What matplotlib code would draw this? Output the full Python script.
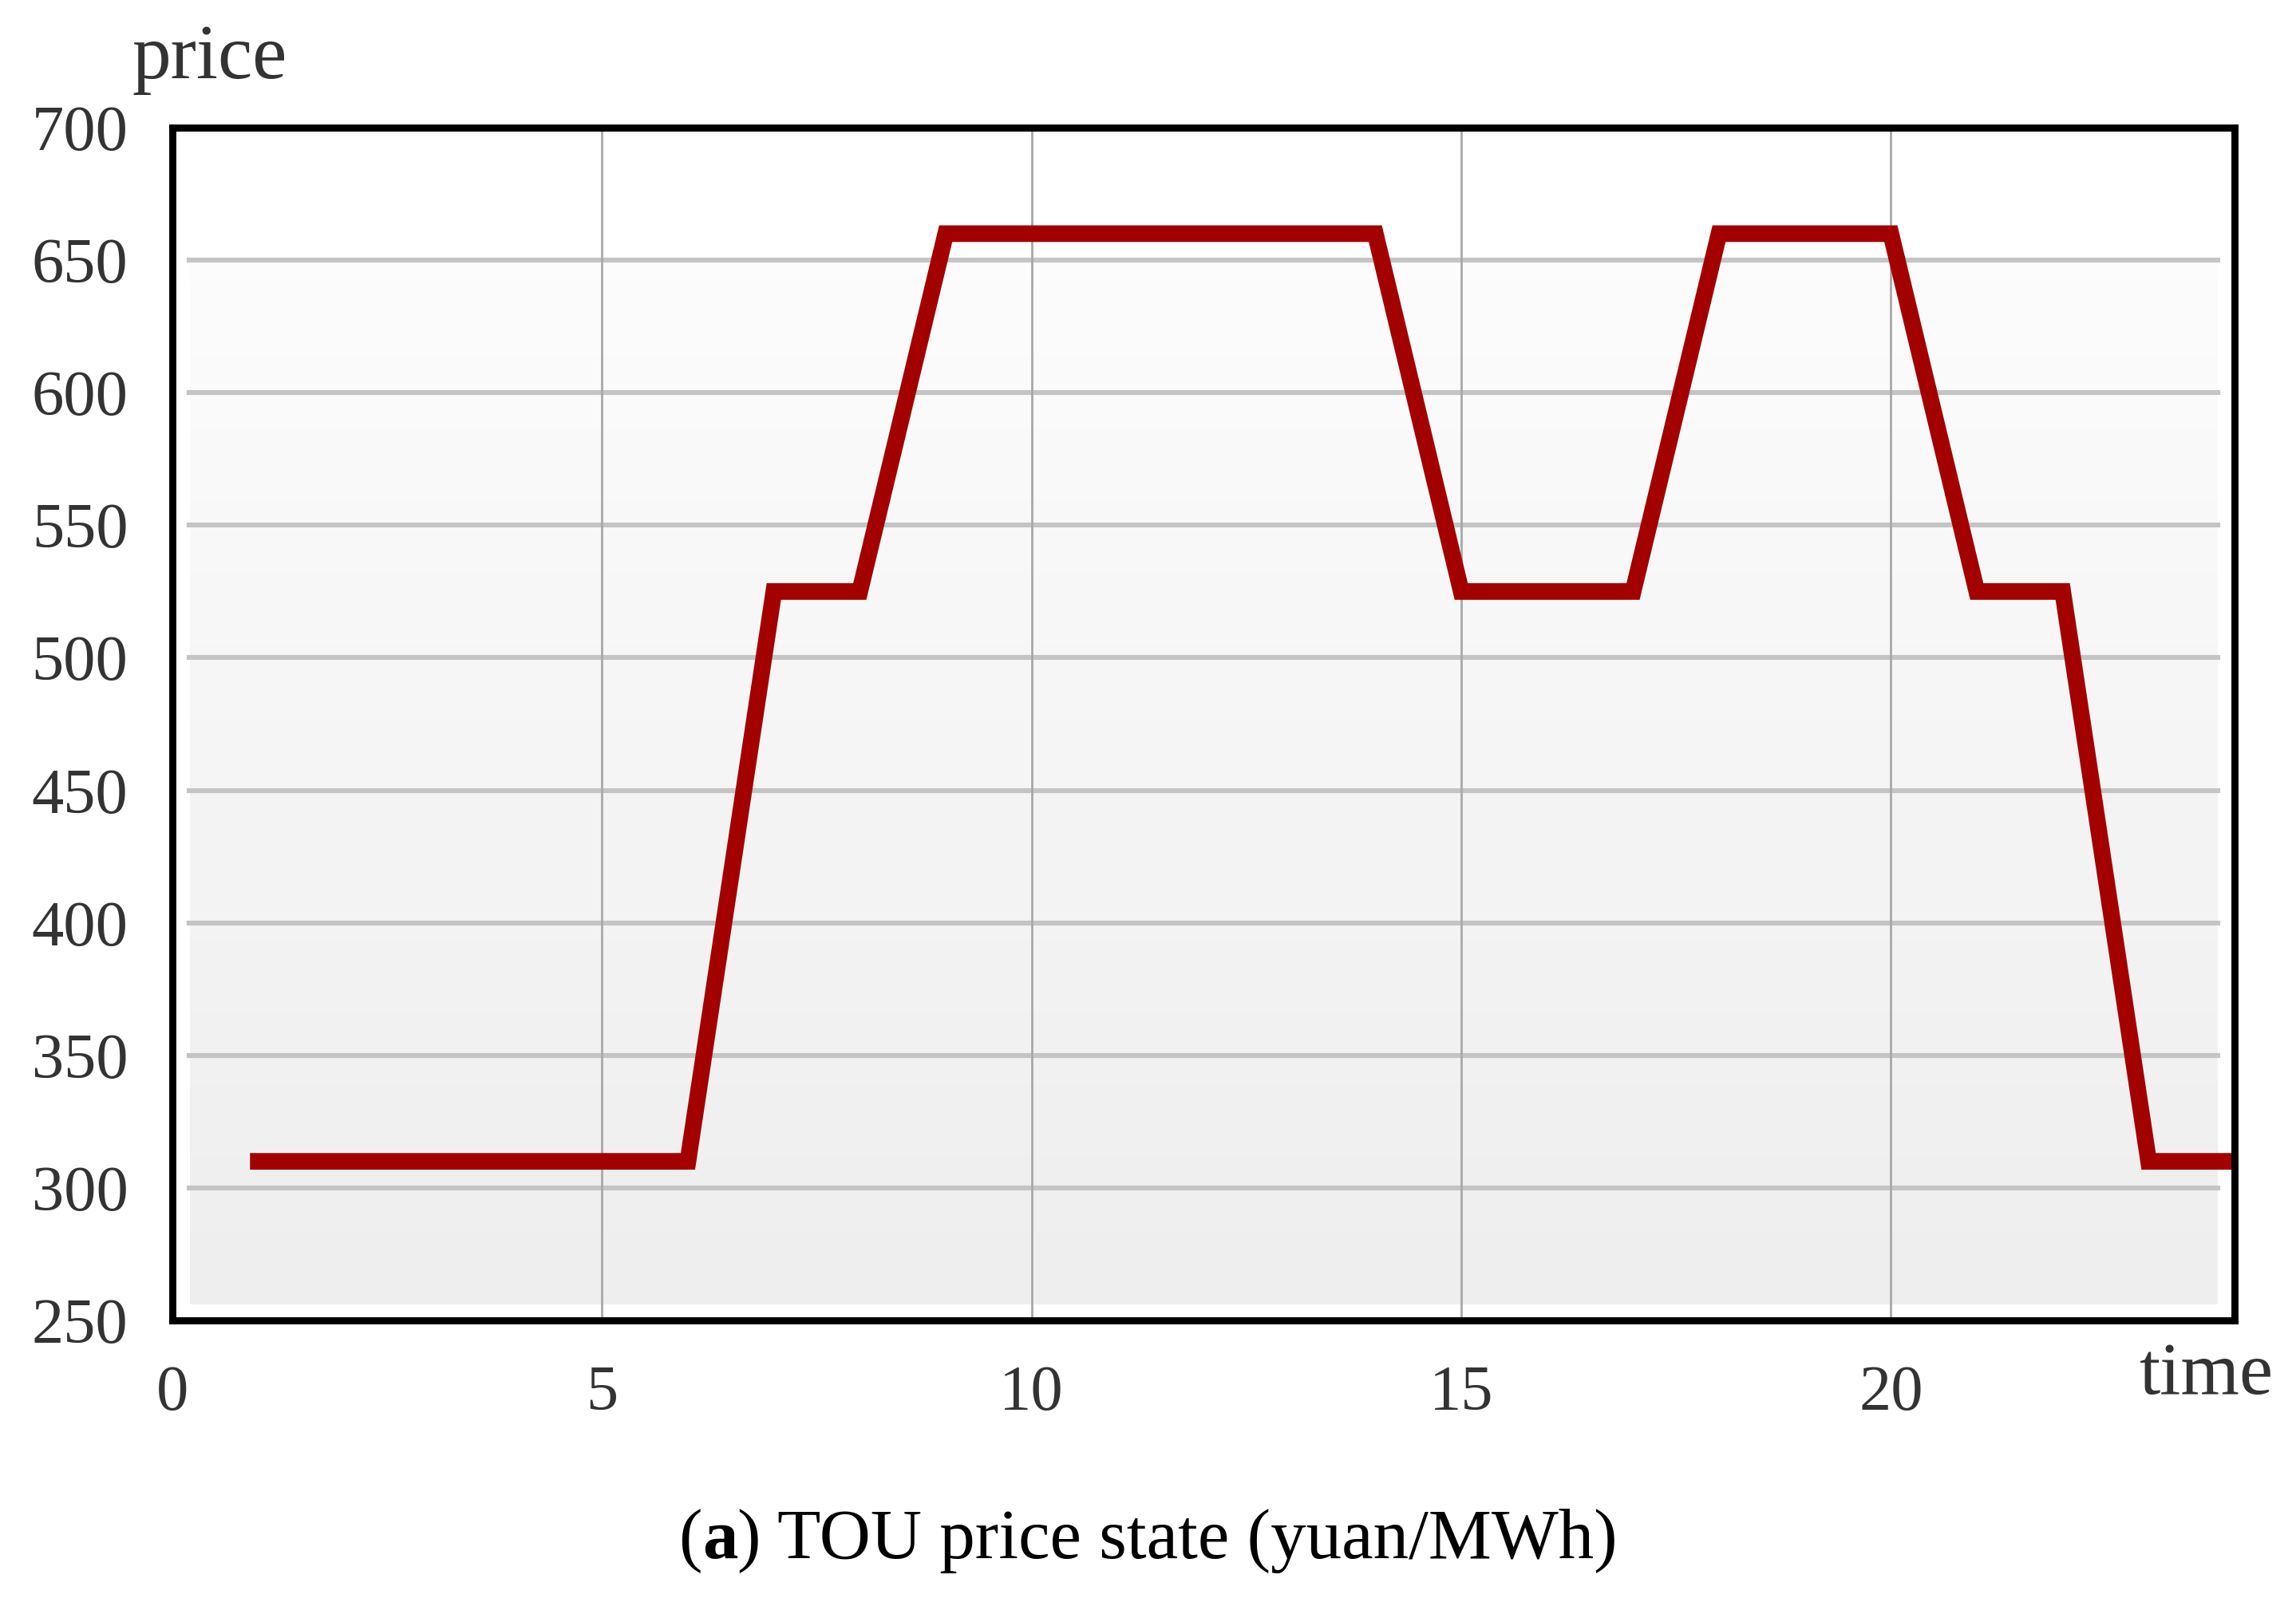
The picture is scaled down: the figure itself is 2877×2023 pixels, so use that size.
import matplotlib
matplotlib.use("Agg")
import matplotlib.pyplot as plt
import numpy as np

# hourly TOU price (yuan/MWh)
hours = [1, 2, 3, 4, 5, 6, 7, 8, 9, 10, 11, 12, 13, 14, 15, 16, 17, 18, 19, 20, 21, 22, 23, 24]
price = [310, 310, 310, 310, 310, 310, 525, 525, 660, 660, 660, 660, 660, 660,
         525, 525, 525, 660, 660, 660, 525, 525, 310, 310]
y_ticks = [250, 300, 350, 400, 450, 500, 550, 600, 650, 700]
x_ticks = [0, 5, 10, 15, 20]

plt.rcParams['font.family'] = ['Liberation Serif', 'DejaVu Serif']

fig = plt.figure(figsize=(14.385, 10.115), dpi=200)
ax = fig.add_axes([216 / 2877, 1 - 1655 / 2023, (2800 - 216) / 2877, (1655 - 160) / 2023])
ax.set_xlim(0, 24)
ax.set_ylim(250, 700)

# light gray gradient background below 650
grad = np.linspace(0.93, 0.985, 100).reshape(-1, 1)
ax.imshow(grad, extent=[0.2, 23.8, 256, 650], aspect='auto', cmap='gray',
          vmin=0, vmax=1, origin='lower', zorder=0)

for y in y_ticks[1:-1]:
    ax.axhline(y, xmin=0.008, xmax=0.992, color='#c4c4c4', lw=2.2, zorder=1)
for x in x_ticks[1:]:
    ax.axvline(x, color='#a8a8a8', lw=1.0, zorder=1)

ax.plot(hours, price, color='#a30000', lw=7.5, solid_joinstyle='miter', zorder=3)

for s in ax.spines.values():
    s.set_linewidth(3.2)
    s.set_color('black')
    s.set_zorder(4)

ax.set_xticks(x_ticks)
ax.set_yticks(y_ticks)
ax.tick_params(length=0, labelsize=29, labelcolor='#333333')
ax.tick_params(axis='y', pad=20)
ax.tick_params(axis='x', pad=20)

fig.text(165 / 2877, 1 - 75 / 2023, 'price', fontsize=35, color='#333333', va='center')
fig.text(2680 / 2877, 1 - 1725 / 2023, 'time', fontsize=34, color='#333333', va='center')

# caption: "(a) TOU price state (yuan/MWh)" with a bold "a"
cy = 1 - 1932 / 2023
t1 = fig.text(0.5, cy, '(', fontsize=32, ha='left', va='center')
t2 = fig.text(0.5, cy, 'a', fontsize=32, ha='left', va='center', fontweight='bold')
t3 = fig.text(0.5, cy, ') TOU price state (yuan/MWh)', fontsize=32, ha='left', va='center')
r = fig.canvas.get_renderer()
w1 = t1.get_window_extent(r).width
w2 = t2.get_window_extent(r).width
w3 = t3.get_window_extent(r).width
fw = fig.bbox.width
x0 = 0.5 - (w1 + w2 + w3) / 2 / fw
t1.set_x(x0)
t2.set_x(x0 + w1 / fw)
t3.set_x(x0 + (w1 + w2) / fw)

fig.savefig('out.png', dpi=200, facecolor='white')
